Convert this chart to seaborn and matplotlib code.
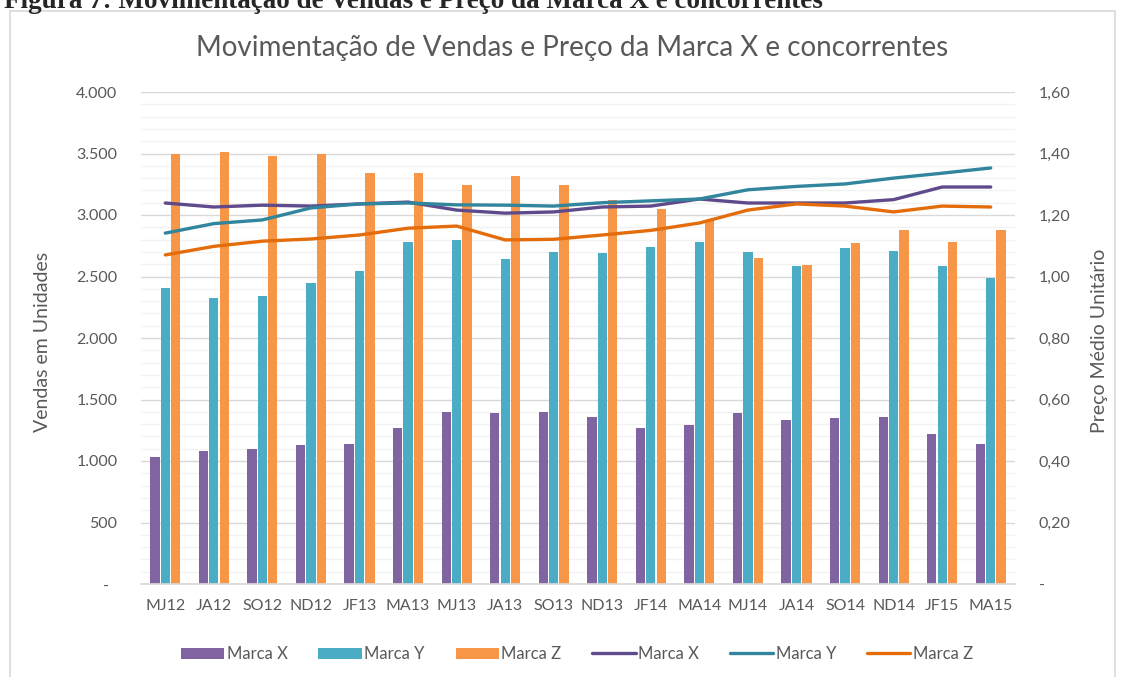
import numpy as np
import pandas as pd
import matplotlib
matplotlib.use("Agg")
import matplotlib.pyplot as plt
from matplotlib.patches import Patch, Rectangle
from matplotlib.lines import Line2D
from matplotlib.ticker import FixedLocator, MultipleLocator
import seaborn as sns

periods = ["MJ12", "JA12", "SO12", "ND12", "JF13", "MA13", "MJ13", "JA13", "SO13",
           "ND13", "JF14", "MA14", "MJ14", "JA14", "SO14", "ND14", "JF15", "MA15"]
brands = ["Marca X", "Marca Y", "Marca Z"]

sales_x = [1035, 1080, 1100, 1130, 1138, 1268, 1398, 1388, 1397, 1358, 1268, 1293,
           1390, 1333, 1350, 1358, 1220, 1138]
sales_y = [2405, 2325, 2340, 2447, 2543, 2780, 2797, 2642, 2700, 2692, 2740, 2782,
           2700, 2587, 2732, 2707, 2587, 2488]
sales_z = [3494, 3512, 3478, 3494, 3342, 3342, 3244, 3318, 3246, 3120, 3048, 2962,
           2650, 2592, 2772, 2878, 2780, 2878]

price_x = [1.239, 1.226, 1.232, 1.229, 1.236, 1.242, 1.216, 1.206, 1.210, 1.226,
           1.229, 1.252, 1.239, 1.239, 1.239, 1.250, 1.291, 1.291]
price_y = [1.141, 1.172, 1.184, 1.223, 1.236, 1.239, 1.233, 1.232, 1.229, 1.240,
           1.246, 1.252, 1.282, 1.293, 1.301, 1.320, 1.336, 1.353]
price_z = [1.070, 1.098, 1.115, 1.122, 1.135, 1.157, 1.164, 1.119, 1.121, 1.135,
           1.150, 1.174, 1.216, 1.236, 1.229, 1.210, 1.229, 1.226]

left_ticks = [0, 500, 1000, 1500, 2000, 2500, 3000, 3500, 4000]
left_labels = ["-  ", "500", "1.000", "1.500", "2.000", "2.500", "3.000", "3.500", "4.000"]
right_ticks = [0, 0.2, 0.4, 0.6, 0.8, 1.0, 1.2, 1.4, 1.6]
right_labels = ["-", "0,20", "0,40", "0,60", "0,80", "1,00", "1,20", "1,40", "1,60"]

title = "Movimentação de Vendas e Preço da Marca X e concorrentes"
caption = "Figura 7: Movimentação de Vendas e Preço da Marca X e concorrentes"
ylabel_left = "Vendas em Unidades"
ylabel_right = "Preço Médio Unitário"

bar_colors = ["#8064A2", "#4BACC6", "#F79646"]
line_colors = ["#5F4B8B", "#31859C", "#E46C0A"]

sns.set_theme(style="white")
plt.rcParams["font.family"] = ["Lato", "DejaVu Sans"]
text_gray = "#595959"

sales_df = pd.DataFrame({
    "period": periods * 3,
    "marca": [brands[0]] * len(periods) + [brands[1]] * len(periods) + [brands[2]] * len(periods),
    "vendas": sales_x + sales_y + sales_z,
})
price_df = pd.DataFrame({
    "pos": list(range(len(periods))) * 3,
    "marca": [brands[0]] * len(periods) + [brands[1]] * len(periods) + [brands[2]] * len(periods),
    "preco": price_x + price_y + price_z,
})

fig = plt.figure(figsize=(11.24, 6.77), dpi=100)
W, H = 1124, 677
ax = fig.add_axes([141 / W, 1 - 584 / H, (1015 - 141) / W, (584 - 92) / H])

# outer chart border
fig.patches.append(Rectangle((10 / W, -0.01), (1115 - 10) / W, 1.01 - 11 / H,
                             transform=fig.transFigure, fill=False,
                             edgecolor="#D9D9D9", linewidth=1.2))

sns.barplot(data=sales_df, x="period", y="vendas", hue="marca", palette=bar_colors,
            saturation=1, width=0.64, gap=0.1, linewidth=0, ax=ax, legend=False)
ax.set_ylim(0, 4000)
ax.set_xlim(-0.5, len(periods) - 0.5)
ax.yaxis.set_major_locator(FixedLocator(left_ticks))
ax.yaxis.set_minor_locator(MultipleLocator(100))
ax.set_yticklabels(left_labels)
ax.grid(axis="y", which="major", color="#D9D9D9", linewidth=1.0)
ax.grid(axis="y", which="minor", color="#F2F2F2", linewidth=1.0)
ax.set_axisbelow(True)
for s in ["top", "right", "left"]:
    ax.spines[s].set_visible(False)
ax.spines["bottom"].set_color("#D9D9D9")
ax.tick_params(axis="both", which="both", length=0, colors=text_gray, labelsize=11.5)
ax.tick_params(axis="y", pad=17)
ax.tick_params(axis="x", pad=11)
ax.set_xlabel("")
ax.set_ylabel("")

ax2 = ax.twinx()
sns.lineplot(data=price_df, x="pos", y="preco", hue="marca", palette=line_colors,
             linewidth=2.4, ax=ax2, legend=False)
ax2.set_ylim(0, 1.6)
ax2.yaxis.set_major_locator(FixedLocator(right_ticks))
ax2.set_yticklabels(right_labels)
ax2.tick_params(axis="y", length=0, colors=text_gray, labelsize=11.5, pad=17)
for s in ax2.spines.values():
    s.set_visible(False)
ax2.set_ylabel("")
ax2.set_xlabel("")
ax2.grid(False)

fig.text(572 / W, 1 - 48 / H, title, ha="center", va="center", fontsize=20, color=text_gray)
fig.text(43 / W, 1 - 342 / H, ylabel_left, rotation=90, ha="center", va="center",
         fontsize=14, color=text_gray)
fig.text(1100 / W, 1 - 341 / H, ylabel_right, rotation=90, ha="center", va="center",
         fontsize=14, color=text_gray)
fig.text(4 / W, 1 - 8 / H, caption, ha="left", va="baseline", fontsize=19.5,
         fontweight="bold", family=["Liberation Serif", "DejaVu Serif"])

handles = [Patch(facecolor=c, edgecolor="none") for c in bar_colors] + \
          [Line2D([0], [0], color=c, linewidth=2.4) for c in line_colors]
labels = brands + brands
fig.legend(handles, labels, loc="center", bbox_to_anchor=(577 / W, 1 - 654 / H), ncol=6,
           frameon=False, fontsize=12, handlelength=2.6, handleheight=0.66,
           handletextpad=0.15, columnspacing=1.85, labelcolor=text_gray)

fig.savefig("out.png", dpi=100)
